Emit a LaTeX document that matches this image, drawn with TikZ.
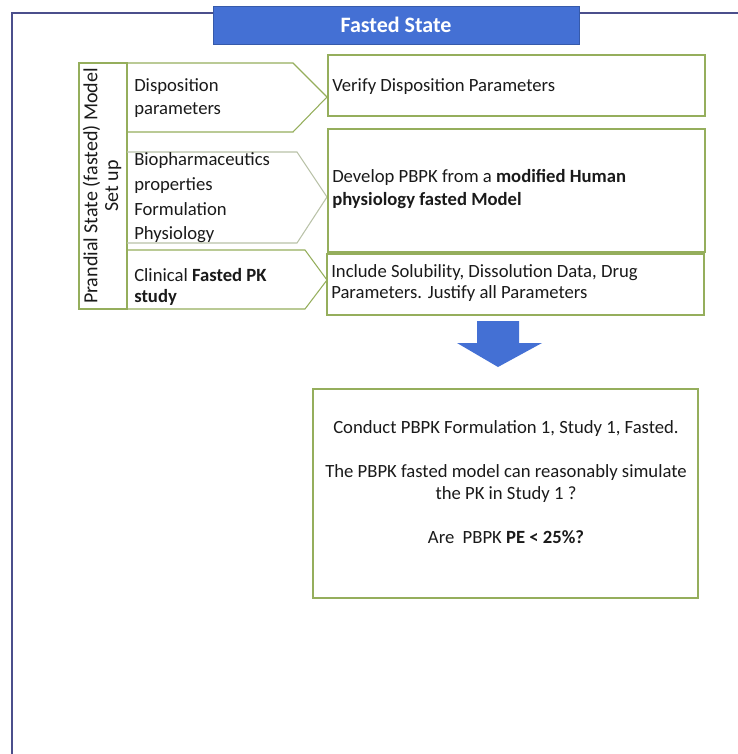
\documentclass[tikz,border=0pt]{standalone}
\usepackage{fontspec}
\setmainfont{Carlito}
\definecolor{frameblue}{HTML}{4B4F8C}
\definecolor{titleblue}{HTML}{4470D4}
\definecolor{boxgreen}{HTML}{95AE5C}
\definecolor{fadegreen}{HTML}{B9C2A8}
\definecolor{txt}{HTML}{1A1A1A}
\tikzset{
  gbox/.style={draw=boxgreen, line width=0.8pt},
  fbox/.style={draw=fadegreen, line width=0.8pt},
  lbl/.style={anchor=west, align=left, inner sep=0pt, text=txt, font=\fontsize{14}{17.25}\selectfont},
}
\begin{document}
\begin{tikzpicture}[x=0.75pt, y=-0.75pt]
\useasboundingbox (0,0) rectangle (738,754);
% outer frame
\draw[frameblue, line width=1.1pt] (12,754) -- (12,13) -- (738,13);
% title
\node[fill=titleblue, draw=titleblue!80!black, line width=0.4pt, minimum width=366*0.75pt, minimum height=38*0.75pt, inner sep=0pt, text=white, font=\fontsize{16.5}{18}\selectfont\bfseries] (title) at (396,25) {Fasted State};
% vertical label box
\draw[gbox] (79,63) rectangle (127,309);
\node[rotate=90, align=center, inner sep=0pt, text=txt, font=\fontsize{15}{15.5}\selectfont] (vlabel) at (102,186) {Prandial State (fasted) Model\\Set up};
% chevrons
\draw[gbox] (127,63) -- (293,63) -- (327,97) -- (293,132) -- (127,132);
\draw[fbox] (127,152) -- (297,152) -- (327,197) -- (297,243) -- (127,243);
\draw[gbox] (127,250) -- (305,250) -- (327,280) -- (305,309) -- (127,309);
\node[lbl] (l1) at (134,98) {Disposition\\parameters};
\node[lbl, font=\fontsize{14}{18.5}\selectfont] (l2) at (134,198) {Biopharmaceutics\\properties\\Formulation\\Physiology};
\node[lbl, font=\fontsize{14}{15.5}\selectfont] (l3) at (134,287) {Clinical \textbf{Fasted PK}\\\textbf{study}};
% right boxes
\draw[gbox] (328,55) rectangle (705,116);
\draw[gbox] (328,129) rectangle (705,252);
\draw[gbox] (327,254) rectangle (704,315);
\node[lbl] (r1) at (332,87) {Verify Disposition Parameters};
\node[lbl] (r2) at (332,189) {Develop PBPK from a \textbf{modified Human}\\\textbf{physiology fasted Model}};
\node[lbl, font=\fontsize{14}{15.5}\selectfont] (r3) at (331,283) {Include Solubility, Dissolution Data, Drug\\Parameters. Justify all Parameters};
% arrow
\fill[titleblue] (477,321) -- (519,321) -- (519,343) -- (542,343) -- (498,367) -- (457,343) -- (477,343) -- cycle;
\coordinate (arrowtip) at (498,367);
% bottom box
\draw[gbox] (313,389) rectangle (698,598);
\node[align=center, inner sep=0pt, text=txt, font=\fontsize{14}{16.5}\selectfont] (b1) at (506,482) {Conduct PBPK Formulation 1, Study 1, Fasted.\\[16.5pt]The PBPK fasted model can reasonably simulate\\the PK in Study 1 ?\\[16.5pt]Are\ \ PBPK \textbf{PE < 25\%?}};
\end{tikzpicture}
\end{document}
